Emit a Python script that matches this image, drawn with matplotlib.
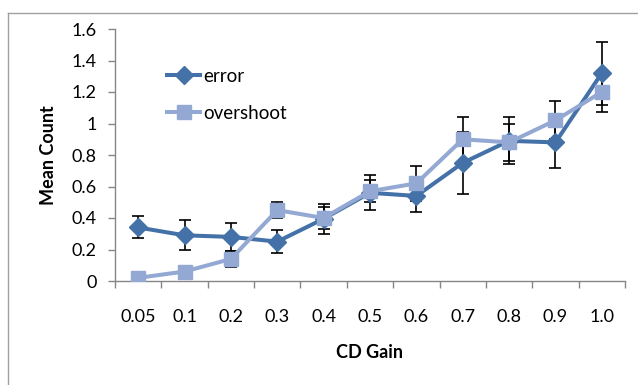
import matplotlib.pyplot as plt
from matplotlib.lines import Line2D

# ===== DATA =====
gains = ["0.05", "0.1", "0.2", "0.3", "0.4", "0.5", "0.6", "0.7", "0.8", "0.9", "1.0"]
error_mean = [0.34, 0.29, 0.28, 0.25, 0.395, 0.56, 0.54, 0.75, 0.89, 0.88, 1.32]
error_sd = [0.07, 0.095, 0.088, 0.072, 0.095, 0.11, 0.10, 0.195, 0.15, 0.165, 0.20]
over_mean = [0.02, 0.06, 0.14, 0.45, 0.40, 0.57, 0.62, 0.90, 0.88, 1.02, 1.20]
over_sd = [0.02, 0.03, 0.05, 0.05, 0.07, 0.07, 0.11, 0.14, 0.12, 0.12, 0.13]

dark = "#4472a8"
light = "#93a9d3"
axis_grey = "#868686"

plt.rcParams["font.family"] = ["Lato", "DejaVu Sans"]

fig = plt.figure(figsize=(6.38, 3.85), dpi=100)
ax = fig.add_axes([115 / 638, 1 - 281 / 385, 510 / 638, 252 / 385])

x = list(range(len(gains)))

# ===== ERROR BARS =====
ax.errorbar(x, error_mean, yerr=error_sd, fmt="none", ecolor="black",
            elinewidth=1.2, capsize=4.3, capthick=1.2, zorder=2)
ax.errorbar(x, over_mean, yerr=over_sd, fmt="none", ecolor="black",
            elinewidth=1.2, capsize=4.3, capthick=1.2, zorder=2)

# ===== LINES =====
ax.plot(x, error_mean, color=dark, lw=2.9, marker="D", ms=9.3,
        mfc=dark, mec=dark, zorder=3)
ax.plot(x, over_mean, color=light, lw=2.9, marker="s", ms=10.3,
        mfc=light, mec=light, zorder=4)

# ===== AXES =====
ax.set_xlim(-0.5, len(gains) - 0.5)
ax.set_ylim(0, 1.6)
ax.set_yticks([0, 0.2, 0.4, 0.6, 0.8, 1.0, 1.2, 1.4, 1.6])
ax.set_yticklabels(["0", "0.2", "0.4", "0.6", "0.8", "1", "1.2", "1.4", "1.6"])
ax.set_xticks(x)
ax.set_xticklabels(gains)
ax.set_xticks([i - 0.5 for i in range(len(gains) + 1)], minor=True)

ax.tick_params(axis="x", which="major", length=0, pad=20, labelsize=13)
ax.tick_params(axis="x", which="minor", length=5, width=1, color=axis_grey)
ax.tick_params(axis="y", length=5, width=1, color=axis_grey, pad=8, labelsize=13)

for side in ["top", "right"]:
    ax.spines[side].set_visible(False)
for side in ["left", "bottom"]:
    ax.spines[side].set_color(axis_grey)
    ax.spines[side].set_linewidth(1)

ax.set_xlabel("CD Gain", fontsize=13, fontweight="bold", labelpad=14)
ax.set_ylabel("Mean Count", fontsize=13, fontweight="bold", labelpad=11)

# ===== LEGEND =====
handles = [
    Line2D([], [], color=dark, lw=2.9, marker="D", ms=9.3),
    Line2D([], [], color=light, lw=2.9, marker="s", ms=10.3),
]
ax.legend(handles, ["error", "overshoot"], loc="upper left",
          bbox_to_anchor=(0.088, 0.875), frameon=False, fontsize=13.5,
          handlelength=1.75, handletextpad=0.15, labelspacing=1.05,
          borderaxespad=0)

# ===== CHART BORDER =====
fig.add_artist(plt.Line2D([8 / 638, 8 / 638], [0, 1 - 13 / 385],
                          color="#a0a0a0", lw=1))
fig.add_artist(plt.Line2D([8 / 638, 1], [1 - 13 / 385, 1 - 13 / 385],
                          color="#a0a0a0", lw=1))

plt.savefig("out.png", dpi=100)
plt.close()
